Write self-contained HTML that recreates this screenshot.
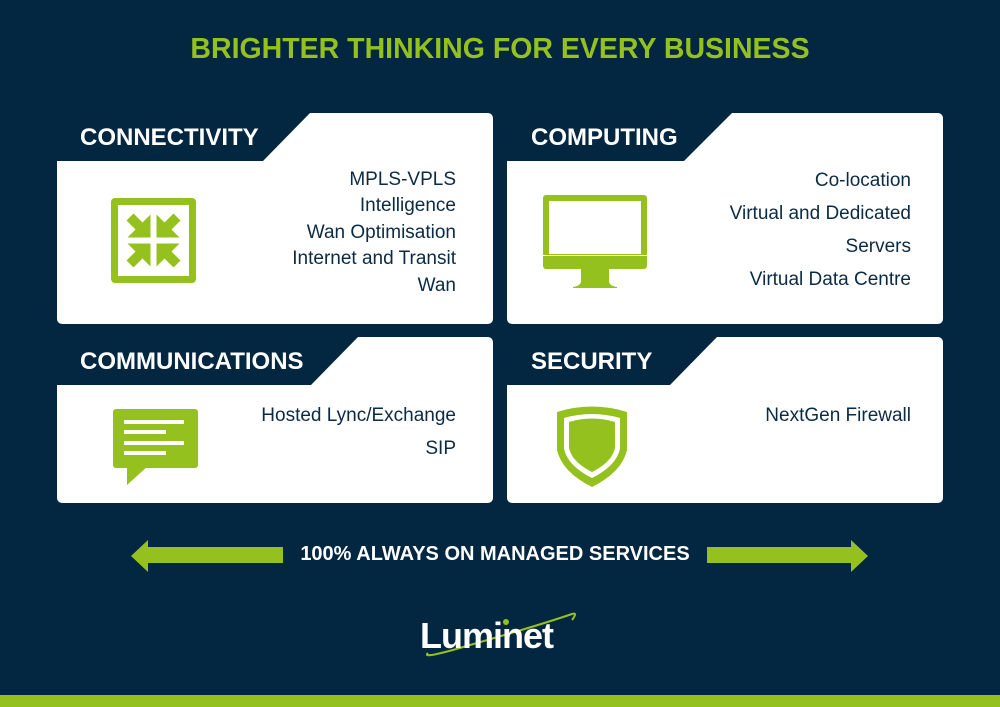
<!DOCTYPE html>
<html><head><meta charset="utf-8"><style>
*{margin:0;padding:0}
body{width:1000px;height:707px;background:#032741;position:relative;overflow:hidden;font-family:"Liberation Sans",sans-serif}
.t{position:absolute;white-space:nowrap}
.card{position:absolute;background:#fff;border-radius:5px;overflow:hidden}
.list{position:absolute;text-align:right;color:#0b2a44;font-size:19px}
.hd{position:absolute;color:#fff;font-weight:bold;font-size:24px}
</style></head><body>
<div class="t" style="left:0;width:1000px;top:33px;text-align:center;color:#95c11f;font-weight:bold;font-size:28.5px;">BRIGHTER THINKING FOR EVERY BUSINESS</div>

<div class="card" style="left:57px;top:113px;width:436px;height:211px"></div>
<div class="card" style="left:507px;top:113px;width:436px;height:211px"></div>
<div class="card" style="left:57px;top:337px;width:436px;height:166px"></div>
<div class="card" style="left:507px;top:337px;width:436px;height:166px"></div>

<svg width="1000" height="707" style="position:absolute;left:0;top:0">
<g fill="#032741">
<path d="M57 113 H310 L263 161 H57Z"/>
<path d="M507 113 H732 L684 161 H507Z"/>
<path d="M57 337 H358 L311 385 H57Z"/>
<path d="M507 337 H717 L670 385 H507Z"/>
</g>
<g fill="#95c11f">
<rect x="111" y="198" width="85" height="85" rx="4"/>
<rect x="118" y="205" width="71" height="71" fill="#fff"/>
<g transform="translate(153.5,240.5)">
<path d="M-3 -3 V-26 L-11 -18 L-20 -27 L-27 -20 L-18 -11 L-26 -3Z"/>
<path d="M3 -3 V-26 L11 -18 L20 -27 L27 -20 L18 -11 L26 -3Z"/>
<path d="M-3 3 V26 L-11 18 L-20 27 L-27 20 L-18 11 L-26 3Z"/>
<path d="M3 3 V26 L11 18 L20 27 L27 20 L18 11 L26 3Z"/>
</g>
<rect x="543" y="195" width="104" height="74" rx="3"/>
<rect x="549" y="201" width="92" height="53" fill="#fff"/>
<rect x="543" y="255" width="104" height="1" fill="#fff"/>
<path d="M581 269 H609 V282 Q610 286 617 287 V288 H573 V287 Q580 286 581 282Z"/>
<rect x="113" y="409" width="85" height="59" rx="3"/>
<path d="M127 466 V485 L148 466Z"/>
<g fill="#fff"><rect x="124" y="420" width="60" height="4"/><rect x="124" y="430" width="42" height="4"/><rect x="124" y="441" width="60" height="4"/><rect x="124" y="451" width="42" height="4"/></g>
<path d="M557 412 Q592 401 627 412 V450 Q622 472 592 487 Q562 472 557 450Z"/>
<path d="M564 418 Q592 410 620 418 V449 Q616 466 592 478 Q568 466 564 449Z" fill="#fff"/>
<path d="M569 422 Q592 415 615 422 V448 Q612 462 592 472 Q572 462 569 448Z"/>
<path d="M131 556 L148 540 V547 H283 V563 H148 V572Z"/>
<path d="M868 556 L851 540 V547 H707 V563 H851 V572Z"/>
<rect x="0" y="695" width="1000" height="12"/>
</g>
<path d="M428 653 Q420 660 470 645 Q540 625 572 614 Q578 612 572 620" stroke="#95c11f" stroke-width="2" fill="none"/>
<circle cx="506" cy="622" r="3" fill="#95c11f"/>
</svg>

<div class="hd" style="left:80px;top:124px">CONNECTIVITY</div>
<div class="hd" style="left:531px;top:124px">COMPUTING</div>
<div class="hd" style="left:80px;top:348px">COMMUNICATIONS</div>
<div class="hd" style="left:531px;top:348px">SECURITY</div>

<div class="list" style="right:544px;top:167px;line-height:26.4px">MPLS-VPLS<br>Intelligence<br>Wan Optimisation<br>Internet and Transit<br>Wan</div>
<div class="list" style="right:89px;top:164px;line-height:33px">Co-location<br>Virtual and Dedicated<br>Servers<br>Virtual Data Centre</div>
<div class="list" style="right:544px;top:399px;line-height:33px">Hosted Lync/Exchange<br>SIP</div>
<div class="list" style="right:89px;top:399px;line-height:33px">NextGen Firewall</div>

<div class="t" style="left:283px;width:424px;top:543px;text-align:center;color:#fff;font-weight:bold;font-size:20px">100% ALWAYS ON MANAGED SERVICES</div>
<div class="t" style="left:420px;top:615px;color:#fff;font-weight:bold;font-size:36px;letter-spacing:-1px">Luminet</div>
</body></html>
